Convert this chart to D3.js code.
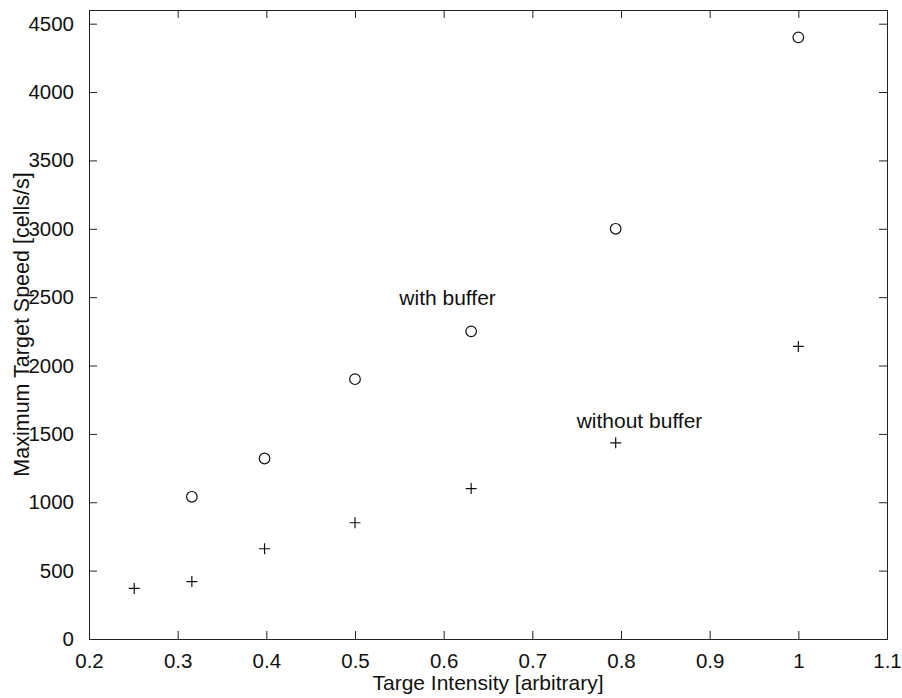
<!DOCTYPE html>
<html>
<head>
<meta charset="utf-8">
<script src="https://cdn.jsdelivr.net/npm/d3@7"></script>
<style>
  html, body { margin: 0; padding: 0; background: #fff; }
  svg { display: block; }
  text { font-family: "Liberation Sans", Arial, Helvetica, sans-serif; fill: #111; }
</style>
</head>
<body>
<svg id="chart" width="902" height="698"></svg>
<script>
// Target intensity levels (10^-0.6 ... 10^0)
const intensity = [0.251, 0.316, 0.398, 0.5, 0.631, 0.794, 1.0];
// Maximum target speed with buffer (no run at the lowest intensity)
const withBufferX = [0.316, 0.398, 0.5, 0.631, 0.794, 1.0];
const withBuffer = [1040, 1320, 1900, 2250, 3000, 4400];
// Maximum target speed without buffer
const withoutBuffer = [370, 420, 660, 850, 1100, 1435, 2140];

const xTicks = [0.2, 0.3, 0.4, 0.5, 0.6, 0.7, 0.8, 0.9, 1.0, 1.1];
const yTicks = [0, 500, 1000, 1500, 2000, 2500, 3000, 3500, 4000, 4500];

// Text annotations, anchored in data units
const annotations = [
  { text: "with buffer", x: 0.55, y: 2500 },
  { text: "without buffer", x: 0.75, y: 1600 }
];

const svg = d3.select("#chart");
const plotLeft = 89, plotRight = 887, plotTop = 10, plotBottom = 639;
const tickLen = 8;

const x = d3.scaleLinear().domain([0.2, 1.1]).range([plotLeft, plotRight]);
const y = d3.scaleLinear().domain([0, 4600]).range([plotBottom, plotTop]);

const fmt = d => (Math.round(d * 10) / 10).toString();

// Bottom axis with inward ticks
const xAxis = d3.axisBottom(x).tickValues(xTicks).tickFormat(fmt)
  .tickSizeInner(-tickLen).tickSizeOuter(0).tickPadding(14);
const gx = svg.append("g").attr("transform", `translate(0,${plotBottom})`).call(xAxis);
gx.selectAll("text").style("font-size", "20.5px").attr("dy", "0.71em");

// Top axis: ticks only
const gxt = svg.append("g").attr("transform", `translate(0,${plotTop})`)
  .call(d3.axisTop(x).tickValues(xTicks).tickFormat("").tickSizeInner(-tickLen).tickSizeOuter(0));

// Left axis with inward ticks
const yAxis = d3.axisLeft(y).tickValues(yTicks).tickFormat(d => d.toString())
  .tickSizeInner(-tickLen).tickSizeOuter(0).tickPadding(15);
const gy = svg.append("g").attr("transform", `translate(${plotLeft},0)`).call(yAxis);
gy.selectAll("text").style("font-size", "20.5px");

// Right axis: ticks only
const gyr = svg.append("g").attr("transform", `translate(${plotRight},0)`)
  .call(d3.axisRight(y).tickValues(yTicks).tickFormat("").tickSizeInner(-tickLen).tickSizeOuter(0));

[gx, gxt, gy, gyr].forEach(g => {
  g.select(".domain").remove();
  g.selectAll("line").attr("stroke", "#222").attr("stroke-width", 1);
});

// Box around the plot area
svg.append("rect")
  .attr("x", plotLeft + 0.5).attr("y", plotTop + 0.5)
  .attr("width", plotRight - plotLeft).attr("height", plotBottom - plotTop)
  .attr("fill", "none").attr("stroke", "#222").attr("stroke-width", 1);

// Circles: with buffer
svg.append("g").selectAll("circle")
  .data(withBufferX.map((v, i) => [v, withBuffer[i]]))
  .join("circle")
  .attr("cx", d => x(d[0])).attr("cy", d => y(d[1]))
  .attr("r", 5.3)
  .attr("fill", "none").attr("stroke", "#111").attr("stroke-width", 1.2);

// Plus signs: without buffer
const s = 5.5;
svg.append("g").selectAll("path")
  .data(intensity.map((v, i) => [v, withoutBuffer[i]]))
  .join("path")
  .attr("d", d => {
    const cx = x(d[0]), cy = y(d[1]);
    return `M${cx - s},${cy}H${cx + s}M${cx},${cy - s}V${cy + s}`;
  })
  .attr("fill", "none").attr("stroke", "#111").attr("stroke-width", 1.2);

// Annotations
svg.append("g").selectAll("text")
  .data(annotations)
  .join("text")
  .attr("x", d => x(d.x)).attr("y", d => y(d.y))
  .attr("dy", "0.35em")
  .style("font-size", "21px")
  .text(d => d.text);

// Axis titles
svg.append("text")
  .attr("x", (plotLeft + plotRight) / 2).attr("y", 690)
  .attr("text-anchor", "middle")
  .style("font-size", "21px")
  .text("Targe Intensity [arbitrary]");

svg.append("text")
  .attr("transform", `translate(28.5,${(plotTop + plotBottom) / 2}) rotate(-90)`)
  .attr("text-anchor", "middle")
  .style("font-size", "21.5px")
  .text("Maximum Target Speed [cells/s]");
</script>
</body>
</html>
